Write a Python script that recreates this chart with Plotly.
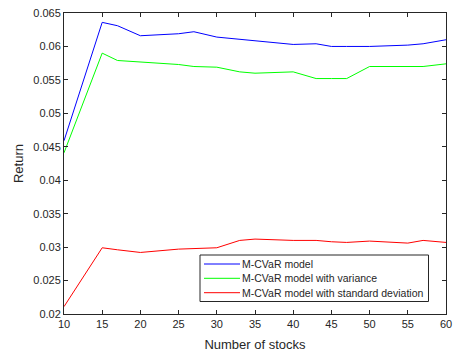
import plotly.graph_objects as go

# Number of stocks in the portfolio
stocks = [10, 15, 17, 20, 25, 27, 30, 33, 35, 40, 43, 45, 47, 50, 55, 57, 60]

# Portfolio return for each model
ret_mcvar = [0.0459, 0.0636, 0.0631, 0.0616, 0.0619, 0.0622, 0.0614, 0.0611, 0.0608,
             0.0603, 0.0604, 0.0600, 0.0600, 0.0600, 0.0602, 0.0604, 0.0610]
ret_variance = [0.0441, 0.0590, 0.0579, 0.0577, 0.0573, 0.0570, 0.0569, 0.0562, 0.0560,
                0.0562, 0.0552, 0.0552, 0.0552, 0.0570, 0.0570, 0.0570, 0.0574]
ret_stddev = [0.0211, 0.0299, 0.0296, 0.0292, 0.0297, 0.0298, 0.0299, 0.0310, 0.0312,
              0.0310, 0.0310, 0.0308, 0.0307, 0.0309, 0.0306, 0.0310, 0.0307]

series_names = ["M-CVaR model", "M-CVaR model with variance",
                "M-CVaR model with standard deviation"]
series_colors = ["#0000ff", "#00ff00", "#ff0000"]

x_ticks = [10, 15, 20, 25, 30, 35, 40, 45, 50, 55, 60]
y_ticks = [0.02, 0.025, 0.03, 0.035, 0.04, 0.045, 0.05, 0.055, 0.06, 0.065]
y_ticktext = ["0.02", "0.025", "0.03", "0.035", "0.04", "0.045", "0.05", "0.055", "0.06", "0.065"]

fig = go.Figure()
for name, color, vals in zip(series_names, series_colors, [ret_mcvar, ret_variance, ret_stddev]):
    fig.add_trace(go.Scatter(x=stocks, y=vals, mode="lines", name=name,
                             line=dict(color=color, width=1), showlegend=False))

axis_color = "#262626"
font_family = "Liberation Sans, Arial, sans-serif"

# Compact boxed legend in the lower right of the axes (paper coordinates)
W, H, L, T = 454, 356, 64, 13
PW, PH = W - L - 8, H - T - 42


def px(xp):
    return (xp - L) / PW


def py(yp):
    return (T + PH - yp) / PH


shapes = [dict(type="rect", xref="paper", yref="paper",
               x0=px(200), x1=px(428.5), y0=py(301.5), y1=py(255),
               line=dict(color=axis_color, width=1), fillcolor="white", layer="above")]
annotations = []
row_y = [264, 278.3, 292.7]
for name, color, ry in zip(series_names, series_colors, row_y):
    shapes.append(dict(type="line", xref="paper", yref="paper",
                       x0=px(204), x1=px(240), y0=py(ry), y1=py(ry),
                       line=dict(color=color, width=1), layer="above"))
    annotations.append(dict(text=name, xref="paper", yref="paper", x=px(240), y=py(ry),
                            xanchor="left", yanchor="middle", showarrow=False,
                            font=dict(size=10.5, color=axis_color)))

fig.update_layout(
    width=W, height=H,
    margin=dict(l=L, r=8, t=T, b=42),
    paper_bgcolor="white", plot_bgcolor="white",
    font=dict(family=font_family, size=10, color=axis_color),
    showlegend=False,
    shapes=shapes,
    annotations=annotations,
    xaxis=dict(
        range=[10, 60], tickvals=x_ticks, ticks="inside", ticklen=4,
        tickcolor=axis_color, showline=True, linecolor=axis_color, linewidth=1,
        mirror="ticks", showgrid=False, zeroline=False, automargin=False,
        title=dict(text="Number of stocks", font=dict(size=13), standoff=10),
        tickfont=dict(size=11),
    ),
    yaxis=dict(
        range=[0.02, 0.065], tickvals=y_ticks, ticktext=y_ticktext, ticks="inside",
        ticklen=4, tickcolor=axis_color, showline=True, linecolor=axis_color,
        linewidth=1, mirror="ticks", showgrid=False, zeroline=False, automargin=False,
        title=dict(text="Return", font=dict(size=13), standoff=6),
        tickfont=dict(size=11),
    ),
)

fig.write_html("out.html")
